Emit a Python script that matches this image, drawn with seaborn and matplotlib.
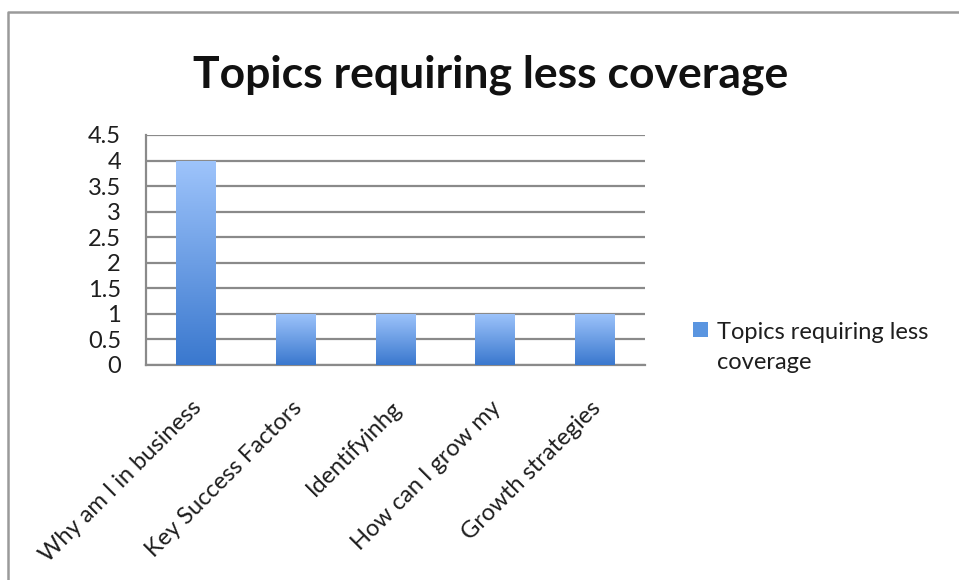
import numpy as np
import pandas as pd
import matplotlib
matplotlib.use("Agg")
import matplotlib.pyplot as plt
import matplotlib.transforms as mtransforms
from matplotlib.patches import Patch
from matplotlib.lines import Line2D
from matplotlib.offsetbox import HPacker
from matplotlib.colors import LinearSegmentedColormap
import seaborn as sns

# ---- data ----
categories = ["Why am I in business", "Key Success Factors", "Identifyinhg",
              "How can I grow my", "Growth strategies"]
values = [4, 1, 1, 1, 1]
series_name = "Topics requiring less coverage"
title = "Topics requiring less coverage"
yticks = [0, 0.5, 1, 1.5, 2, 2.5, 3, 3.5, 4, 4.5]
ytick_labels = ["0", "0.5", "1", "1.5", "2", "2.5", "3", "3.5", "4", "4.5"]

sns.set_theme(style="white")
plt.rcParams["font.family"] = ["Lato", "DejaVu Sans"]

df = pd.DataFrame({"topic": categories, "value": values})

fig = plt.figure(figsize=(9.59, 5.8), dpi=100)
ax = fig.add_axes([0.1522, 0.3707, 0.5204, 0.3966])

sns.barplot(data=df, x="topic", y="value", ax=ax, color="#4F8EDC",
            width=0.4, saturation=1, zorder=3)

# gradient fill on each bar
cmap = LinearSegmentedColormap.from_list("g", ["#3A78CE", "#9EC4FB"])
grad = np.linspace(0, 1, 256).reshape(-1, 1)
for p in ax.patches:
    x0, y0 = p.get_x(), p.get_y()
    w, h = p.get_width(), p.get_height()
    p.set_edgecolor("none")
    im = ax.imshow(grad, cmap=cmap, origin="lower", aspect="auto",
                   extent=[x0, x0 + w, y0, y0 + h], zorder=4)
    im.set_clip_path(p)

ax.set_xlim(-0.5, len(categories) - 0.5)
ax.set_ylim(0, 4.5)
ax.set_yticks(yticks)
ax.set_yticklabels(ytick_labels)
ax.yaxis.grid(True, color="#8a8a8a", linewidth=1.6, zorder=0)
ax.set_axisbelow(True)
ax.set_xlabel("")
ax.set_ylabel("")
for s in ["top", "right"]:
    ax.spines[s].set_visible(False)
for s in ["left", "bottom"]:
    ax.spines[s].set_color("#8a8a8a")
    ax.spines[s].set_linewidth(1.6)
ax.tick_params(axis="y", length=0, pad=18, labelsize=17, labelcolor="#1e1e1e")
ax.tick_params(axis="x", length=0, pad=0, labelsize=17, labelcolor="#1e1e1e")
for lab in ax.get_yticklabels():
    lab.set_va("center_baseline")

# rotated category labels
off = mtransforms.ScaledTranslation(-5 / 100, -32 / 100, fig.dpi_scale_trans)
for lab in ax.get_xticklabels():
    lab.set_rotation(45)
    lab.set_ha("right")
    lab.set_va("top")
    lab.set_rotation_mode("anchor")
    lab.set_transform(lab.get_transform() + off)

fig.text(0.512, 0.871, title, ha="center", va="center", fontsize=32,
         fontweight="bold", color="#111111")

handle = Patch(facecolor="#5A95E0", edgecolor="none")
leg = fig.legend([handle], ["Topics requiring less\ncoverage"], loc="upper left",
                 bbox_to_anchor=(0.723, 0.445), frameon=False, fontsize=17,
                 handlelength=0.6, handleheight=0.6, handletextpad=0.4,
                 borderaxespad=0, borderpad=0)
for t in leg.get_texts():
    t.set_linespacing(1.55)
    t.set_color("#1e1e1e")
for pk in leg.findobj(HPacker):
    pk.align = "top"

# outer chart border (left + top)
fig.add_artist(Line2D([8 / 959, 8 / 959, 1.0], [0.0, 1 - 12 / 580, 1 - 12 / 580],
                      transform=fig.transFigure, color="#9a9a9a", linewidth=1.8))

fig.savefig("out.png", dpi=100)
